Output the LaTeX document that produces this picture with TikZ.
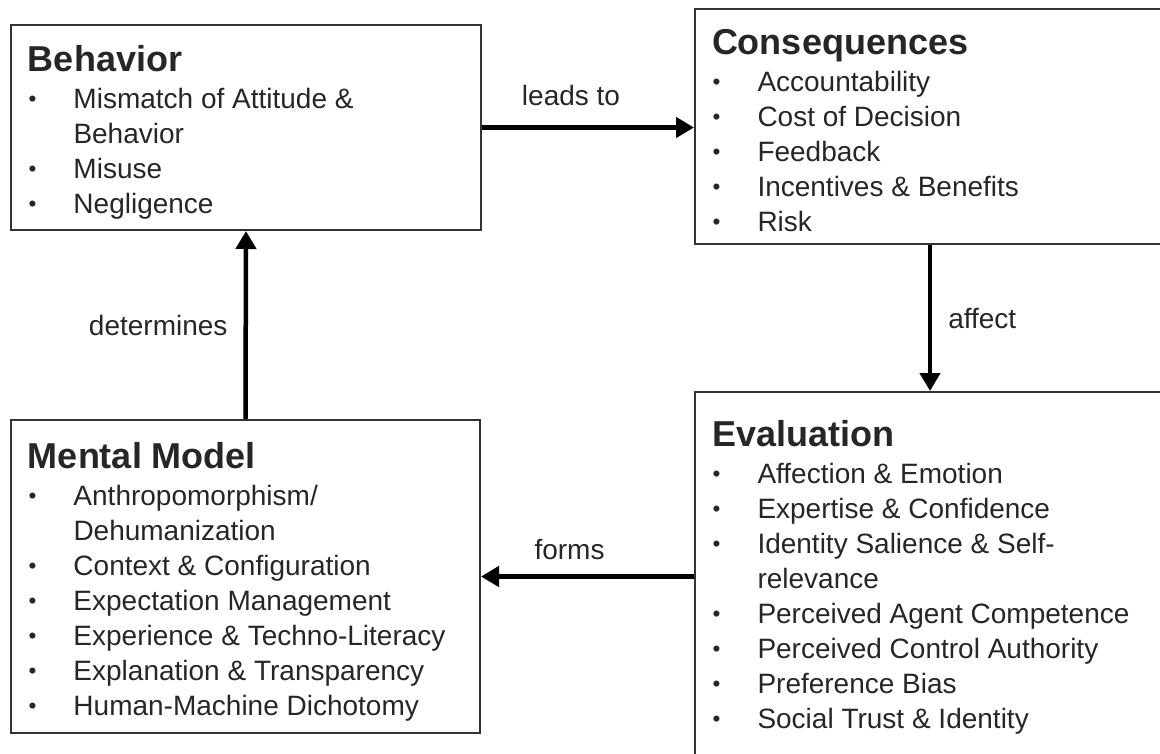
\documentclass[tikz,border=0pt]{standalone}
\usepackage{fontspec}
\setmainfont{Liberation Sans}
\usetikzlibrary{arrows.meta}

\newcommand{\titfont}{\bfseries\fontsize{36}{38}\selectfont}
\newcommand{\itmfont}{\fontsize{28}{35}\selectfont}
\newcommand{\bitem}{\par\noindent\llap{\makebox[46pt][l]{\hspace{1pt}\raisebox{2pt}{\scalebox{0.8}{•}}}}}
% box contents: top offset, width, height, title, items
\newcommand{\boxtext}[5]{%
  \begin{minipage}[c][#3][t]{#2}\color{black!85}%
    {\noindent\rule{0pt}{#1}\hspace*{17pt}\titfont #4\par}
    \itmfont\vspace{2pt}\leftskip=62.5pt
    #5\par
  \end{minipage}}

\begin{document}
\begin{tikzpicture}[x=1pt, y=-1pt]
        \useasboundingbox (0,0) rectangle (1160,753);
        \tikzstyle{every node}=[inner sep=0pt, font=\itmfont, text=black!85]
        \tikzstyle{box}=[draw=black!80, line width=2pt, anchor=north west]
        \tikzstyle{arr}=[-{Triangle[length=18pt, width=20pt]}, line width=4.5pt]
        \node[box] (behav)  at (10,  24)  {\boxtext{46pt}{470pt}{205pt}{Behavior}{%
            \bitem Mismatch of Attitude \&\\Behavior
            \bitem Misuse
            \bitem Negligence}};
        \node[box] (cons)   at (694, 8)   {\boxtext{45pt}{470pt}{235pt}{Consequences}{%
            \bitem Accountability
            \bitem Cost of Decision
            \bitem Feedback
            \bitem Incentives \& Benefits
            \bitem Risk}};
        \node[box] (eval)   at (694, 391) {\boxtext{54pt}{470pt}{368pt}{Evaluation}{%
            \bitem Affection \& Emotion
            \bitem Expertise \& Confidence
            \bitem Identity Salience \& Self-\\relevance
            \bitem Perceived Agent Competence
            \bitem Perceived Control Authority
            \bitem Preference Bias
            \bitem Social Trust \& Identity}};
        \node[box] (mental) at (10,  419) {\boxtext{48pt}{469pt}{313pt}{Mental Model}{%
            \bitem Anthropomorphism/\\Dehumanization
            \bitem Context \& Configuration
            \bitem Expectation Management
            \bitem Experience \& Techno-Literacy
            \bitem Explanation \& Transparency
            \bitem Human-Machine Dichotomy}};
        \draw[arr] (behav.east) -- (behav.east -| cons.west)
            node[midway, above=19pt, xshift=-17pt] (leadsto) {leads to};
        \draw[arr] (cons.south) -- (eval.north)
            node[midway, right=16pt] (affect) {affect};
        \draw[arr] (mental.north) -- (behav.south)
            node[midway, left=16pt] (determines) {determines};
        \draw[arr] (eval.west |- mental.east) -- (mental.east)
            node[midway, above=14pt, xshift=-18pt] (forms) {forms};
    \end{tikzpicture}
\end{document}
